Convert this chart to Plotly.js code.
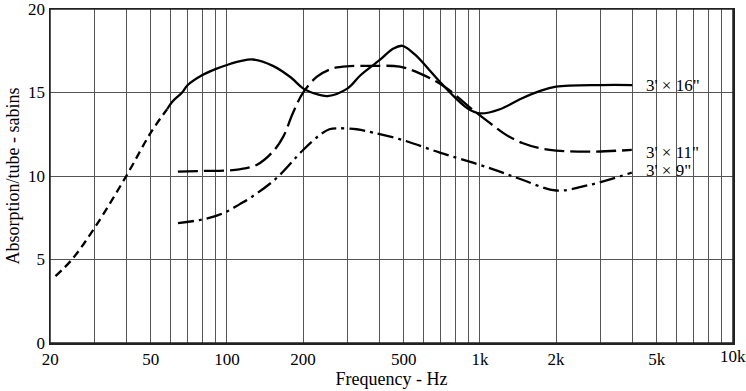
<!DOCTYPE html>
<html>
<head>
<meta charset="utf-8">
<script src="https://cdn.plot.ly/plotly-3.0.1.min.js"></script>
<style>html,body{margin:0;padding:0;background:#fff;}#chart{width:746px;height:391px;}</style>
</head>
<body>
<div id="chart"></div>
<script>
// 3' x 16" tube, low-frequency (dashed) part
const freq16Low = [21, 24.4, 30, 40, 50, 58];
const abs16Low  = [4.0, 5.0, 6.9, 10.0, 12.6, 14.0];
// 3' x 16" tube, solid part
const freq16 = [58, 60.8, 66.5, 70, 80, 90, 100, 113, 127, 152, 179, 200, 227, 250, 300, 338, 401, 455, 494, 557, 631, 694, 804, 905, 1000, 1200, 1440, 1730, 2000, 3000, 4000];
const abs16  = [14.0, 14.45, 15.0, 15.45, 16.05, 16.4, 16.65, 16.88, 16.98, 16.6, 15.9, 15.25, 14.9, 14.79, 15.25, 16.05, 16.94, 17.64, 17.8, 17.24, 16.35, 15.65, 14.65, 14.0, 13.75, 14.0, 14.6, 15.1, 15.35, 15.45, 15.45];
// 3' x 11" tube
const freq11 = [64, 80, 100, 112, 131, 152, 167, 182, 200, 227, 263, 306, 378, 482, 578, 725, 940, 1100, 1274, 1480, 1730, 2000, 2717, 3985];
const abs11  = [10.26, 10.3, 10.33, 10.4, 10.66, 11.46, 12.36, 13.75, 14.99, 15.95, 16.45, 16.58, 16.6, 16.55, 16.15, 15.35, 13.95, 13.15, 12.45, 11.96, 11.66, 11.52, 11.46, 11.56];
// 3' x 9" tube
const freq9 = [64, 78.6, 90, 100, 112, 124, 157, 200, 233, 254, 275, 326, 378, 496, 694, 939, 1199, 1480, 2000, 2717, 3985];
const abs9  = [7.18, 7.37, 7.6, 7.87, 8.3, 8.7, 9.87, 11.56, 12.46, 12.8, 12.86, 12.8, 12.6, 12.15, 11.4, 10.8, 10.26, 9.76, 9.13, 9.47, 10.2];

const xTickVals = [20,30,40,50,60,70,80,90,100,200,300,400,500,600,700,800,900,1000,2000,3000,4000,5000,6000,7000,8000,9000,10000];
const xTickText = ['20','','','50','','','','','100','200','','','500','','','','','1k','2k','','','5k','','','','','10k'];
const yTickVals = [0,5,10,15,20];
const seriesLabels = ["3' × 16\"", "3' × 11\"", "3' × 9\""];
const labelY = [15.45, 11.4, 10.3];

const FONT = '"Liberation Serif", "DejaVu Serif", serif';
const lw = 2.3;
const traces = [
  {x: freq16Low, y: abs16Low, mode:'lines', line:{color:'#000', width:lw, dash:'8px,5px', shape:'spline'}},
  {x: freq16, y: abs16, mode:'lines', line:{color:'#000', width:lw, shape:'spline'}},
  {x: freq11, y: abs11, mode:'lines', line:{color:'#000', width:lw, dash:'20px,6px', shape:'spline'}},
  {x: freq9, y: abs9, mode:'lines', line:{color:'#000', width:lw, dash:'16px,5px,3px,5px', shape:'spline'}}
];
const annotations = seriesLabels.map((t,i)=>({
  x: Math.log10(4450), y: labelY[i], xref:'x', yref:'y', text:t, showarrow:false,
  xanchor:'left', yanchor:'middle', font:{family:FONT, size:17, color:'#000'}
}));
// last x tick label drawn as annotation so it is not dropped at the plot edge
const lastIdx = xTickVals.length - 1;
annotations.push({x: Math.log10(xTickVals[lastIdx]), y: 0, xref:'x', yref:'paper', text: xTickText[lastIdx],
  showarrow:false, xanchor:'center', yanchor:'top', yshift:-2, font:{family:FONT, size:17, color:'#000'}});
const tickTextShown = xTickText.slice(0, lastIdx).concat(['']);

const layout = {
  width:746, height:391,
  margin:{l:50, r:13, t:9, b:48},
  paper_bgcolor:'#fff', plot_bgcolor:'#fff',
  showlegend:false,
  font:{family:FONT, size:17, color:'#000'},
  xaxis:{type:'log', range:[Math.log10(20)-0.0005, 4.0005], tickvals:xTickVals, ticktext:tickTextShown,
    showgrid:true, gridcolor:'#555', gridwidth:1, showline:true, linecolor:'#222', linewidth:1.5, mirror:true,
    ticks:'', zeroline:false, tickfont:{family:FONT, size:17},
    title:{text:'Frequency - Hz', font:{family:FONT, size:18}, standoff:4}},
  yaxis:{range:[-0.005,20.005], tickvals:yTickVals, showgrid:true, gridcolor:'#555', gridwidth:1,
    showline:true, linecolor:'#222', linewidth:1.5, mirror:true, ticks:'', zeroline:false,
    tickfont:{family:FONT, size:17},
    title:{text:'Absorption/tube - sabins', font:{family:FONT, size:18}, standoff:4}},
  shapes:[{type:'rect', xref:'paper', yref:'paper', x0:0, x1:1, y0:0, y1:1, line:{color:'#222', width:1.5}, fillcolor:'rgba(0,0,0,0)', layer:'above'}],
  annotations: annotations
};
Plotly.newPlot('chart', traces, layout, {staticPlot:true, displayModeBar:false});
</script>
</body>
</html>
